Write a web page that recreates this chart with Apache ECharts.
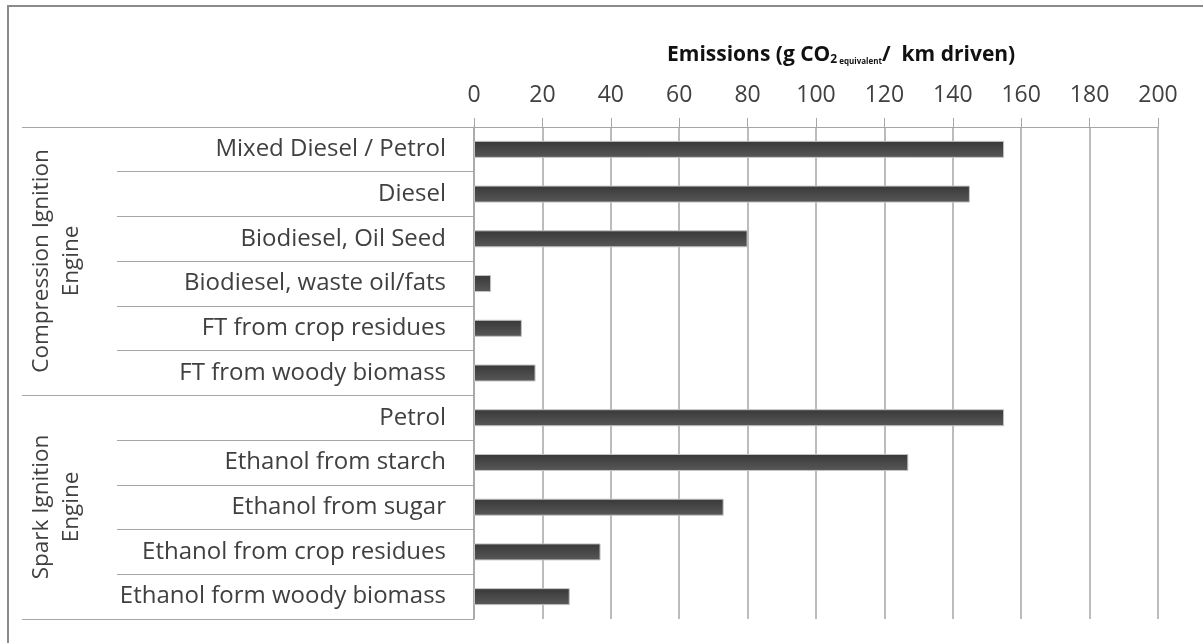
<!DOCTYPE html>
<html>
<head>
<meta charset="utf-8">
<script src="https://cdn.jsdelivr.net/npm/echarts@6/dist/echarts.min.js"></script>
<style>
  html, body { margin: 0; padding: 0; background: #fff; }
  #chart { width: 1203px; height: 643px; }
</style>
</head>
<body>
<div id="chart"></div>
<script>
const categories = [
  'Mixed Diesel / Petrol', 'Diesel', 'Biodiesel, Oil Seed', 'Biodiesel, waste oil/fats',
  'FT from crop residues', 'FT from woody biomass', 'Petrol', 'Ethanol from starch',
  'Ethanol from sugar', 'Ethanol from crop residues', 'Ethanol form woody biomass'
];
const emissions = [155, 145, 80, 5, 14, 18, 155, 127, 73, 37, 28];
const groupNames = ['Compression Ignition\nEngine', 'Spark Ignition\nEngine'];
const groupStarts = [0, 6];   // first category index of each group
const xTicks = [0, 20, 40, 60, 80, 100, 120, 140, 160, 180, 200];

const FONT = '"Open Sans", Lato, sans-serif';
const GRID = '#a6a6a6';

const chart = echarts.init(document.getElementById('chart'), null, { renderer: 'canvas' });

chart.setOption({
  animation: false,
  title: {
    left: 662,
    top: 40,
    text: '{a|Emissions (g CO}{b|2}{c| equivalent}{a|/  km driven)}',
    textStyle: {
      rich: {
        a: { fontFamily: FONT, fontWeight: 'bold', fontSize: 21, color: '#111' },
        b: { fontFamily: FONT, fontWeight: 'bold', fontSize: 12, color: '#111', verticalAlign: 'bottom', padding: [6, 0, 0, 0] },
        c: { fontFamily: FONT, fontWeight: 'bold', fontSize: 8, color: '#111', verticalAlign: 'bottom', padding: [8, 0, 0, 0] }
      }
    }
  },
  grid: { left: 474, right: 45, top: 127, bottom: 24, containLabel: false },
  xAxis: {
    type: 'value',
    position: 'top',
    min: xTicks[0],
    max: xTicks[xTicks.length - 1],
    interval: 20,
    axisLine: { show: true, lineStyle: { color: GRID, width: 1 } },
    axisTick: { show: true, inside: false, length: 9, lineStyle: { color: GRID } },
    axisLabel: { margin: 20, fontFamily: FONT, fontSize: 23, color: '#404040' },
    splitLine: { show: true, lineStyle: { color: GRID, width: 1.5 } }
  },
  yAxis: [
    {
      type: 'category',
      data: categories,
      inverse: true,
      axisLine: { show: true, lineStyle: { color: GRID, width: 1.5 } },
      axisTick: { show: true, length: 357, lineStyle: { color: GRID } },
      axisLabel: { margin: 28, fontFamily: FONT, fontSize: 24, color: '#404040' },
      splitLine: { show: false }
    },
    {
      type: 'category',
      data: categories,
      inverse: true,
      position: 'left',
      offset: 0,
      axisLine: { show: false },
      axisTick: {
        show: true,
        length: 452,
        interval: (idx) => groupStarts.includes(idx),
        lineStyle: { color: GRID }
      },
      axisLabel: { show: false },
      splitLine: { show: false }
    }
  ],
  series: [{
    type: 'bar',
    data: emissions,
    barWidth: 17,
    itemStyle: {
      color: new echarts.graphic.LinearGradient(0, 0, 0, 1, [
        { offset: 0, color: '#383838' },
        { offset: 1, color: '#585858' }
      ]),
      borderColor: '#c4c4c4',
      borderWidth: 1
    }
  }],
  graphic: [
    {
      type: 'rect',
      shape: { x: 8, y: 6, width: 1400, height: 900 },
      style: { fill: 'none', stroke: '#8a8a8a', lineWidth: 2 },
      silent: true
    },
    {
      type: 'text',
      x: 57, y: 261, rotation: Math.PI / 2,
      style: { text: groupNames[0], align: 'center', verticalAlign: 'middle', font: '22.5px ' + FONT, fill: '#404040', lineHeight: 30 }
    },
    {
      type: 'text',
      x: 57, y: 507, rotation: Math.PI / 2,
      style: { text: groupNames[1], align: 'center', verticalAlign: 'middle', font: '22.5px ' + FONT, fill: '#404040', lineHeight: 30 }
    }
  ]
});
</script>
</body>
</html>
